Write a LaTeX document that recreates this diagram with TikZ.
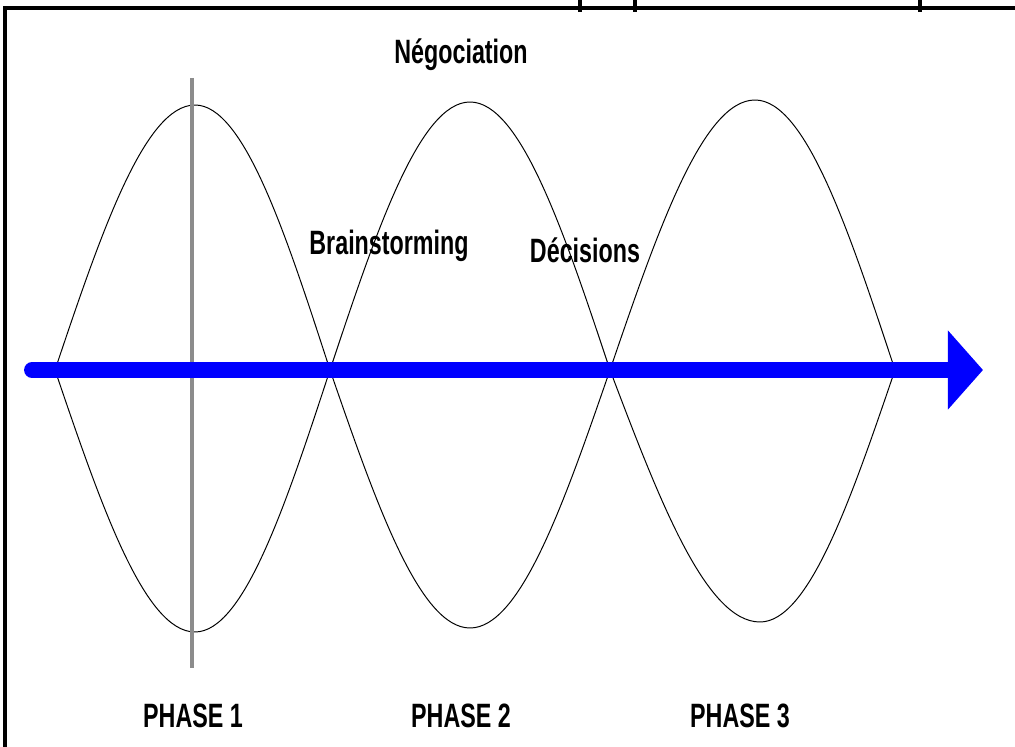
\documentclass[tikz,border=0pt]{standalone}
\usepackage{fontspec}
\setmainfont{Liberation Sans}[FakeStretch=0.69]
\usetikzlibrary{arrows.meta}
\tikzset{
  phaselabel/.style={
    inner sep = 0pt,
    font=\bfseries\fontsize{24}{26}\selectfont
  },
  wave/.style={
    draw,
    line width = 0.7pt
  },
  axisarrow/.style={
    draw = blue,
    line width = 11.3pt,
    line cap = round,
    -{Triangle[length=0.875cm,width=1.925cm]}
  },
  marker/.style={
    draw = gray!90,
    line width = 2.8pt
  }
}
\begin{document}
\begin{tikzpicture}[x=0.025cm,y=-0.025cm]
  \useasboundingbox (0,0) rectangle (1015,747);
  % frame and cut off letters above it
  \draw[line width=2.6pt] (5,747) -- (5,8) -- (1015,8);
  \foreach \x in {580,635,920}{
    \fill (\x-2,0) rectangle (\x+2,12);
  }
  % the two waves
  \draw[wave] (55,370) sin (195,105) cos (330,370) sin (470,102) cos (610,370) sin (755,100) cos (895,370);
  \draw[wave] (55,370) sin (195,632) cos (330,370) sin (470,628) cos (610,370) sin (760,622) cos (895,370);
  % phase 1 marker
  \coordinate (mtop) at (192,78);
  \coordinate (mbot) at (192,668);
  \draw[marker] (mtop) -- (mbot);
  % time axis
  \coordinate (start) at (32,370);
  \coordinate (tip) at (983,370);
  \draw[axisarrow] (start) -- (tip);
  % labels
  \node[phaselabel] (nego) at (461,55) {Négociation};
  \node[phaselabel] (brain) at (389,246) {Brainstorming};
  \node[phaselabel] (deci) at (585,250) {Décisions};
  \foreach \n/\x in {1/193,2/461,3/740}{
    \node[phaselabel] (phase\n) at (\x,716) {PHASE \n};
  }
\end{tikzpicture}
\end{document}
